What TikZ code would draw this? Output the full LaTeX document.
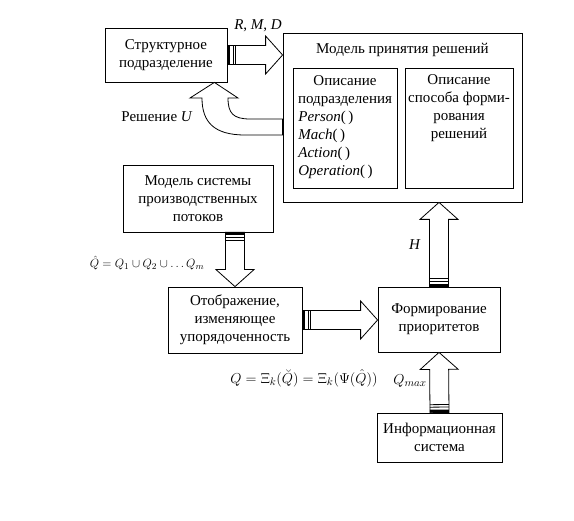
\documentclass[tikz,border=0pt]{standalone}
\usepackage{fontspec}
\setmainfont{Liberation Serif}
\usetikzlibrary{calc}

% hollow arrow with a striped tail, from #1 to #2
\newcommand{\fatarrow}[2]{%
\coordinate (fs) at (#1);
\coordinate (ft) at (#2);
\coordinate (fb) at ($(ft)!17pt!(fs)$);
\coordinate (f1) at ($(fs)!3pt!(ft)$);
\coordinate (f2) at ($(fs)!5.5pt!(ft)$);
\coordinate (f3) at ($(fs)!8pt!(ft)$);
\draw[fill=white] ($(fs)!9.5pt!90:(ft)$) -- ($(fb)!9.5pt!90:(ft)$) -- ($(fb)!19pt!90:(ft)$) -- (ft) -- ($(fb)!19pt!-90:(ft)$) -- ($(fb)!9.5pt!-90:(ft)$) -- ($(fs)!9.5pt!-90:(ft)$) -- cycle;
\fill ($(fs)!9.5pt!90:(ft)$) -- ($(f1)!9.5pt!90:(ft)$) -- ($(f1)!9.5pt!-90:(ft)$) -- ($(fs)!9.5pt!-90:(ft)$) -- cycle;
\draw ($(f2)!9.5pt!90:(ft)$) -- ($(f2)!9.5pt!-90:(ft)$);
\draw ($(f3)!9.5pt!90:(ft)$) -- ($(f3)!9.5pt!-90:(ft)$);
}

\begin{document}
\begin{tikzpicture}
[x=1pt, y=1pt, line width=0.8pt,
 every node/.style={font=\fontsize{15}{18}\selectfont},
 formula/.style={font=\fontsize{13}{16}\selectfont},
 box/.style={draw, align=center, inner sep=0pt}]
\useasboundingbox (0,0) rectangle (574,-521);
% boxes
\node [box, minimum width=122pt, minimum height=54pt] (struct) at (166,-55) {Структурное\\подразделение};
\node [box, minimum width=239pt, minimum height=169pt] (model) at (402.5,-117.5) {};
\node (title) at (402.5,-50) {Модель принятия решений};
\node [box, minimum width=104pt, minimum height=120pt] (unit) at (345,-128) {};
\node [box, minimum width=108pt, minimum height=120pt] (way) at (459,-128) {};
\node [align=center] (unittext) at (345,-91) {Описание\\подразделения};
\node [align=left, anchor=north west, inner sep=0pt] (funcs) at (298,-111) {\textit{Person}(\,)\\\textit{Mach}(\,)\\\textit{Action}(\,)\\\textit{Operation}(\,)};
\node [align=center] (waytext) at (459,-108.5) {Описание\\способа форми-\\рования\\решений};
\node [box, minimum width=150pt, minimum height=67pt] (sys) at (198,-198.5) {Модель системы\\производственных\\потоков};
\node [box, minimum width=134pt, minimum height=66pt] (map) at (235,-320) {Отображение,\\изменяющее\\упорядоченность};
\node [box, minimum width=122pt, minimum height=65pt] (form) at (439,-319.5) {Формирование\\приоритетов};
\node [box, minimum width=125pt, minimum height=49pt] (info) at (439.5,-437.5) {Информационная\\система};
% arrows
\fatarrow{struct.east}{struct.east -| model.west}
\fatarrow{map.north |- sys.south}{map.north}
\fatarrow{map.east}{map.east -| form.west}
\fatarrow{form.north}{form.north |- model.south}
\fatarrow{info.north}{form.south}
% decision arrow back to the unit
\coordinate (utip) at ($(struct.south east)+(-13,0)$);
\draw [fill=white] (utip) -- (238,-98) -- (228,-98) .. controls (228,-113) and (233,-119) .. (250,-119) -- (model.west |- 0,-119) -- (model.west |- 0,-135) -- (245,-135) .. controls (214,-135) and (202,-122) .. (202,-98) -- (190,-98) -- cycle;
% labels
\node (rmd) at (258,-26) {\textit{R}, \textit{M}, \textit{D}};
\node (dec) at (157,-117) {Решение \textit{U}};
\node [formula] (qhat) at (147,-263) {$\hat{Q}=Q_1\cup Q_2\cup\ldots Q_m$};
\node (qform) at (304,-378) {$Q=\Xi_k(\breve{Q})=\Xi_k(\Psi(\hat{Q}))$};
\node (h) at (415,-245) {\textit{H}};
\node (qmax) at (410,-381) {$Q_{max}$};
\end{tikzpicture}
\end{document}
